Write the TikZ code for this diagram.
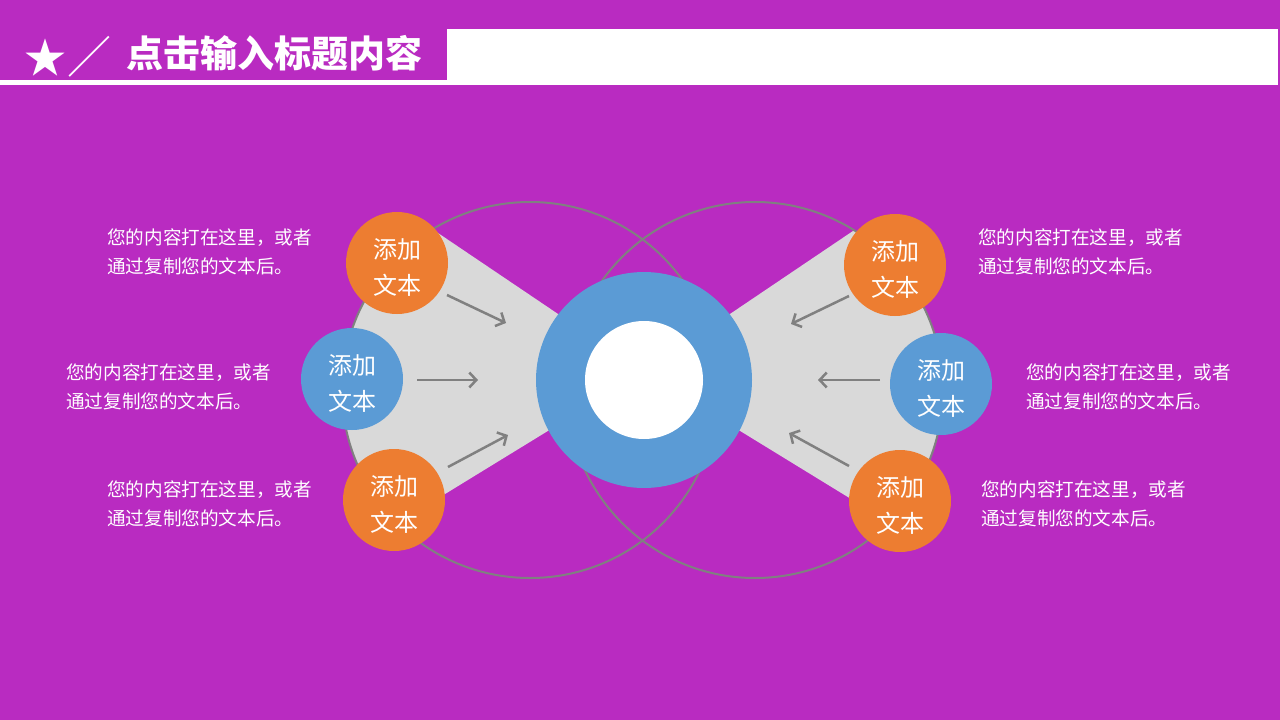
\documentclass[tikz,border=0pt]{standalone}
\usepackage{fontspec}
\setmainfont{Noto Sans CJK SC}
\usetikzlibrary{arrows.meta}
\definecolor{bgpurple}{HTML}{B92BC1}
\definecolor{dotorange}{HTML}{ED7D31}
\definecolor{dotblue}{HTML}{5B9BD5}
\definecolor{fangray}{HTML}{D9D9D9}
\definecolor{linegray}{HTML}{808080}
\newcommand{\bubbletext}{\raisebox{-4pt}[\height][\depth]{添加}\\\raisebox{-4pt}[\height][\depth]{文本}}
\tikzset{
  bubble/.style={circle, minimum size=102pt, inner sep=0pt, text=white, align=center,
    font=\fontsize{24}{36}\selectfont},
  note/.style={text=white, align=left, inner sep=0pt, font=\fontsize{18.6}{29}\selectfont},
  pointer/.style={-{Straight Barb[length=7pt,width=15pt]}, draw=linegray, line width=2.5pt},
}
\begin{document}
\begin{tikzpicture}[x=1pt,y=-1pt]
            % Background
            \fill[bgpurple] (0,0) rectangle (1280,720);
            \useasboundingbox (0,0) rectangle (1280,720);

            % Title bar
            \fill[white] (447,29) rectangle (1278,85);
            \fill[white] (0,80) rectangle (447,85);
            \node[text=white, inner sep=0pt, font=\fontsize{42}{42}\selectfont] (star) at (45,58) {★};
            \node[text=white, inner sep=0pt, font=\fontsize{44}{44}\selectfont] (slash) at (89,57) {／};
            \node[text=white, anchor=west, inner sep=0pt, font=\bfseries\fontsize{37}{37}\selectfont] (title) at (126,53) {点击输入标题内容};

            % Grey fans
            \begin{scope}
              \clip (530,390) circle (188pt);
              \fill[fangray] (644,372) -- (395,204) -- (250,380) -- (388,529) -- cycle;
            \end{scope}
            \begin{scope}
              \clip (755,390) circle (188pt);
              \fill[fangray] (644,372) -- (893,204) -- (1040,380) -- (900,529) -- cycle;
            \end{scope}

            % Outline circles
            \draw[linegray, line width=2pt] (530,390) circle (188pt);
            \draw[linegray, line width=2pt] (755,390) circle (188pt);

            % Centre ring
            \fill[dotblue] (644,380) circle (108pt);
            \node[circle, fill=white, minimum size=118pt, inner sep=0pt] (hub) at (644,380) {};

            % Left bubbles
            \node[bubble, fill=dotorange] (lt) at (397,263) {\bubbletext};
            \node[bubble, fill=dotblue] (lm) at (352,379) {\bubbletext};
            \node[bubble, fill=dotorange] (lb) at (394,500) {\bubbletext};

            % Right bubbles
            \node[bubble, fill=dotorange] (rt) at (895,265) {\bubbletext};
            \node[bubble, fill=dotblue] (rm) at (941,384) {\bubbletext};
            \node[bubble, fill=dotorange] (rb) at (900,501) {\bubbletext};

            % Left notes
            \node[note, anchor=west] (ltn) at (107,252) {您的内容打在这里，或者\\通过复制您的文本后。};
            \node[note, anchor=west] (lmn) at (66,387) {您的内容打在这里，或者\\通过复制您的文本后。};
            \node[note, anchor=west] (lbn) at (107,504) {您的内容打在这里，或者\\通过复制您的文本后。};

            % Right notes
            \node[note, anchor=west] (rtn) at (978,252) {您的内容打在这里，或者\\通过复制您的文本后。};
            \node[note, anchor=west] (rmn) at (1026,387) {您的内容打在这里，或者\\通过复制您的文本后。};
            \node[note, anchor=west] (rbn) at (981,504) {您的内容打在这里，或者\\通过复制您的文本后。};

            % Arrows
            \coordinate (lt-a) at (447,295);
            \coordinate (lt-b) at (506,323);
            \draw[pointer] (lt-a) -- (lt-b);
            \coordinate (lm-a) at (417,380);
            \coordinate (lm-b) at (478,380);
            \draw[pointer] (lm-a) -- (lm-b);
            \coordinate (lb-a) at (448,467);
            \coordinate (lb-b) at (508,435);
            \draw[pointer] (lb-a) -- (lb-b);
            \coordinate (rt-a) at (849,296);
            \coordinate (rt-b) at (791,324);
            \draw[pointer] (rt-a) -- (rt-b);
            \coordinate (rm-a) at (880,380);
            \coordinate (rm-b) at (818,380);
            \draw[pointer] (rm-a) -- (rm-b);
            \coordinate (rb-a) at (849,466);
            \coordinate (rb-b) at (789,433);
            \draw[pointer] (rb-a) -- (rb-b);
        \end{tikzpicture}
\end{document}
